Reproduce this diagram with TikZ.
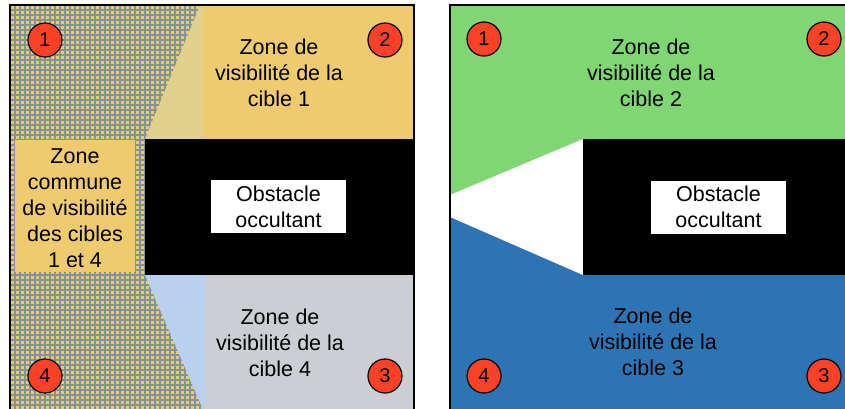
\documentclass[tikz,border=0pt]{standalone}
\usepackage{fontspec}
\setmainfont{Liberation Sans}
\definecolor{zoneyellow}{HTML}{EECB6E}
\definecolor{hatchyellow}{HTML}{E6CE6C}
\definecolor{gridblue}{HTML}{84929C}
\definecolor{palewedge}{HTML}{E0D08C}
\definecolor{greyzone}{HTML}{CBCED3}
\definecolor{palebluewedge}{HTML}{B9D0F0}
\definecolor{greenzone}{HTML}{80D672}
\definecolor{bluezone}{HTML}{2D74B4}
\definecolor{badgered}{HTML}{FB4226}

\begin{document}
\begin{tikzpicture}[x=1pt, y=-1pt, every node/.style={font=\fontsize{21.5}{26}\selectfont},
	zonetext/.style={align=center},
	obstbox/.style={fill=white, minimum width=135pt, minimum height=53pt, inner sep=0pt, align=center},
	badge/.style={circle, draw=black, line width=1.2pt, fill=badgered, minimum size=34pt, inner sep=0pt, font=\fontsize{20}{20}\selectfont}]
	\useasboundingbox (0,0) rectangle (845,408);
	\clip (0,0) rectangle (845,408);
	% left panel
	\begin{scope}
		\clip (10,5) rectangle (414,412);
		\fill[hatchyellow] (10,5) rectangle (414,412);
		\draw[gridblue, line width=1.4pt, step=5pt] (10,5) grid (414,412);
	\end{scope}
	\fill[palewedge] (145,139) -- (200,5) -- (203,5) -- (203,139) -- cycle;
	\fill[zoneyellow] (203,5) rectangle (414,139);
	\fill[black] (145,139) rectangle (414,275);
	\fill[palebluewedge] (145,275) -- (205,275) -- (205,412) -- (204,412) -- cycle;
	\fill[greyzone] (205,275) rectangle (414,412);
	\fill[zoneyellow] (15,140) rectangle (135,272);
	\draw[line width=2pt] (10,5) rectangle (414,412);
	\node[zonetext] (vis1) at (279,73) {Zone de\\visibilité de la\\cible 1};
	\node[zonetext] (common) at (75,208) {Zone\\commune\\de visibilité\\des cibles\\1 et 4};
	\node[obstbox] (obstL) at (278.5,206.5) {Obstacle\\occultant};
	\node[zonetext] (vis4) at (280,343) {Zone de\\visibilité de la\\cible 4};
	\node[badge] (l1) at (45,40) {1};
	\node[badge] (l2) at (385,40) {2};
	\node[badge] (l3) at (385,376) {3};
	\node[badge] (l4) at (45,376) {4};
	% right panel
	\fill[greenzone] (450,5) rectangle (854,206);
	\fill[bluezone] (450,206) rectangle (854,412);
	\fill[white] (450,195) -- (583,139) -- (583,275) -- (450,217) -- cycle;
	\fill[black] (583,139) rectangle (854,275);
	\draw[line width=2pt] (450,5) rectangle (854,412);
	\node[zonetext] (vis2) at (651,73) {Zone de\\visibilité de la\\cible 2};
	\node[obstbox] (obstR) at (718.5,207) {Obstacle\\occultant};
	\node[zonetext] (vis3) at (653,342) {Zone de\\visibilité de la\\cible 3};
	\node[badge] (r1) at (484,39) {1};
	\node[badge] (r2) at (824,39) {2};
	\node[badge] (r3) at (824,376) {3};
	\node[badge] (r4) at (484,376) {4};
\end{tikzpicture}
\end{document}
